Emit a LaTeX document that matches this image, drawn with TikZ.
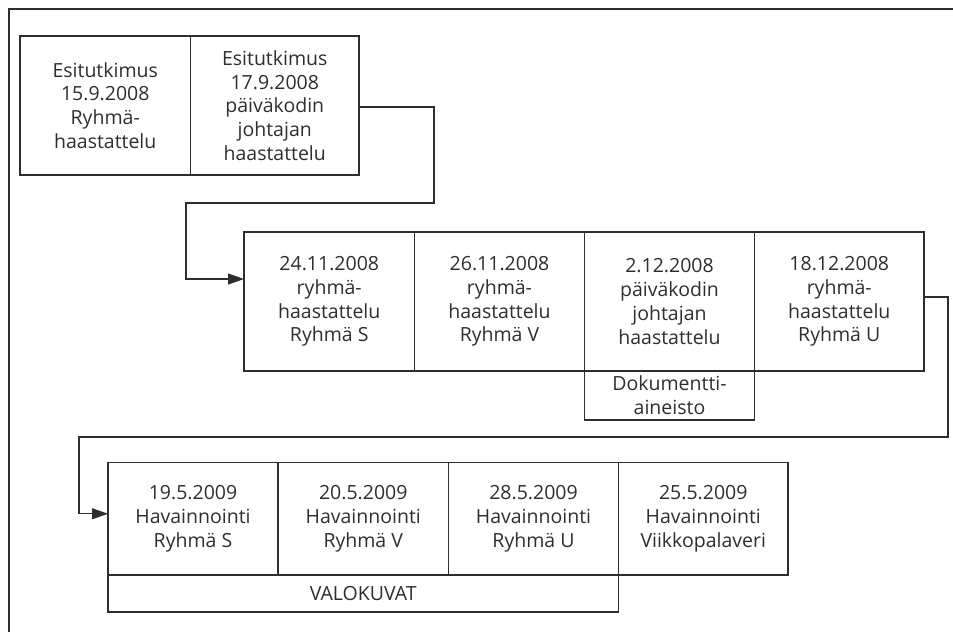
\documentclass[tikz,border=0pt]{standalone}
\usepackage{fontspec}
\setmainfont{Open Sans}
\usetikzlibrary{arrows.meta}
\definecolor{ink}{HTML}{2E2E2E}
\begin{document}
\begin{tikzpicture}[x=1pt,y=-1pt,
  line width=1.1pt, draw=ink,
  cell/.style={draw=ink, rectangle, inner sep=0pt, outer sep=0pt, align=center,
    text=ink, font=\fontsize{19.5}{23.7}\selectfont},
  link/.style={draw=ink, line width=1.1pt},
  arr/.style={link, -{Triangle[length=16pt,width=11pt]}}]
  \useasboundingbox (0,0) rectangle (953,632);
  % frame
  \draw[ink] (9,632) -- (9,9) -- (953,9);

  % pilot study
  \node[cell, minimum width=170.5pt, minimum height=139pt] (a1) at (105.25,105.5)
    {Esitutkimus\\15.9.2008\\Ryhmä-\\haastattelu};
  \node[cell, minimum width=168.5pt, minimum height=139pt] (a2) at (274.75,105.5)
    {Esitutkimus\\17.9.2008\\päiväkodin\\johtajan\\haastattelu};

  % interviews
  \node[cell, minimum width=170.5pt, minimum height=139pt] (b1) at (329.25,301.5)
    {24.11.2008\\ryhmä-\\haastattelu\\Ryhmä S};
  \node[cell, minimum width=170pt, minimum height=139pt] (b2) at (499.5,301.5)
    {26.11.2008\\ryhmä-\\haastattelu\\Ryhmä V};
  \node[cell, minimum width=170pt, minimum height=139pt] (b3) at (669.5,301.5)
    {2.12.2008\\päiväkodin\\johtajan\\haastattelu};
  \node[cell, minimum width=169.5pt, minimum height=139pt] (b4) at (839.25,301.5)
    {18.12.2008\\ryhmä-\\haastattelu\\Ryhmä U};
  \node[cell, minimum width=170pt, minimum height=49pt] (doc) at (669.5,395.5)
    {Dokumentti-\\aineisto};

  % observations
  \node[cell, minimum width=170pt, minimum height=112.5pt] (c1) at (193,518.75)
    {19.5.2009\\Havainnointi\\Ryhmä S};
  \node[cell, minimum width=170.5pt, minimum height=112.5pt] (c2) at (363.25,518.75)
    {20.5.2009\\Havainnointi\\Ryhmä V};
  \node[cell, minimum width=170pt, minimum height=112.5pt] (c3) at (533.5,518.75)
    {28.5.2009\\Havainnointi\\Ryhmä U};
  \node[cell, minimum width=169.5pt, minimum height=112.5pt] (c4) at (703.25,518.75)
    {25.5.2009\\Havainnointi\\Viikkopalaveri};
  \node[cell, minimum width=510.5pt, minimum height=37pt] (val) at (363.25,593.5)
    {VALOKUVAT};

  % connectors
  \coordinate (k1) at (434,203);
  \coordinate (k2) at (186,203);
  \draw[arr] ([yshift=-1.5pt]a2.east) -| (k1) -- (k2) |- ([yshift=22.5pt]b1.west);

  \coordinate (m1) at (948,437);
  \coordinate (m2) at (79,437);
  \draw[arr] ([yshift=4.5pt]b4.east) -| (m1) -- (m2) |- ([yshift=5pt]c1.west);
\end{tikzpicture}
\end{document}
